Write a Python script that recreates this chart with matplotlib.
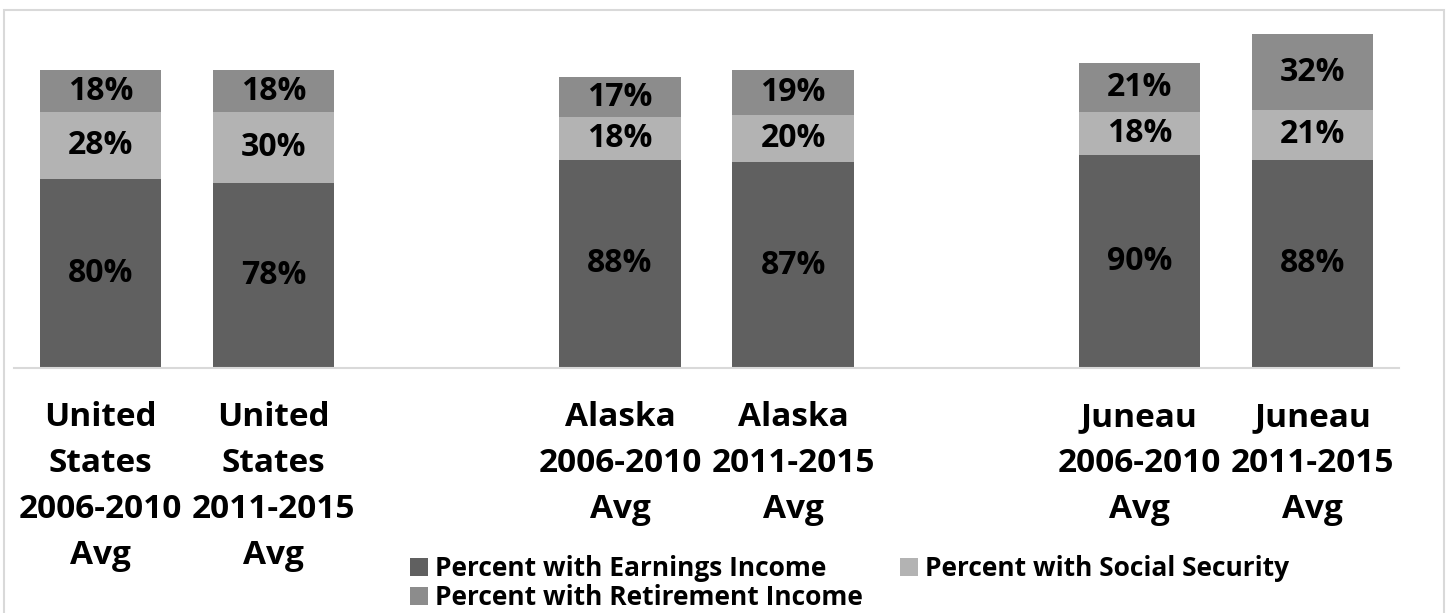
import numpy as np
import matplotlib
matplotlib.use("Agg")
import matplotlib.pyplot as plt
from matplotlib.patches import Rectangle

# Data ("" = empty spacer slot between groups)
categories = ["United\nStates\n2006-2010\nAvg", "United\nStates\n2011-2015\nAvg", "",
              "Alaska\n2006-2010\nAvg", "Alaska\n2011-2015\nAvg", "",
              "Juneau\n2006-2010\nAvg", "Juneau\n2011-2015\nAvg"]
earnings = [80, 78, np.nan, 88, 87, np.nan, 90, 88]
social_security = [28, 30, np.nan, 18, 20, np.nan, 18, 21]
retirement = [18, 18, np.nan, 17, 19, np.nan, 21, 32]
series_names = ["Percent with Earnings Income", "Percent with Social Security",
                "Percent with Retirement Income"]
colors = ["#606060", "#b3b3b3", "#8c8c8c"]

FONT = ['Open Sans', 'DejaVu Sans']
plt.rcParams['font.family'] = FONT
plt.rcParams['font.weight'] = 'bold'

fig = plt.figure(figsize=(14.48, 6.13), dpi=100)
ax = fig.add_axes([14/1448, 1 - 368/613, (1399-14)/1448, (368-13)/613])

x = np.arange(len(categories))
e = np.array(earnings, dtype=float)
s = np.array(social_security, dtype=float)
r = np.array(retirement, dtype=float)
width = 0.70

b1 = ax.bar(x, e, width, color=colors[0], label=series_names[0])
b2 = ax.bar(x, s, width, bottom=e, color=colors[1], label=series_names[1])
b3 = ax.bar(x, r, width, bottom=e + s, color=colors[2], label=series_names[2])

for vals, bottoms in [(e, np.zeros_like(e)), (s, e), (r, e + s)]:
    for xi, v, b in zip(x, vals, bottoms):
        if np.isnan(v):
            continue
        ax.text(xi, b + v / 2, f"{v:.0f}%", ha='center', va='center',
                fontsize=23, fontweight='bold', color='black', family=FONT)

ax.set_xlim(-0.5, len(categories) - 0.5)
ax.set_ylim(0, 150)
ax.set_xticks(x)
ax.set_xticklabels(categories, fontsize=24, fontweight='bold', linespacing=1.52,
                   family=FONT)
ax.tick_params(axis='x', length=0, pad=24)
ax.set_yticks([])
for side in ['top', 'left', 'right']:
    ax.spines[side].set_visible(False)
ax.spines['bottom'].set_color('#d9d9d9')
ax.spines['bottom'].set_linewidth(1.5)

handles = [b1, b3, b2]
labels = [series_names[0], series_names[2], series_names[1]]
leg = fig.legend(handles, labels, ncol=2, loc='upper left',
                 bbox_to_anchor=(410/1448, 1 - 555/613), frameon=False,
                 prop={'family': FONT, 'weight': 'bold', 'size': 19},
                 handlelength=0.68, handleheight=0.68, handletextpad=0.27,
                 columnspacing=1.4, labelspacing=0.08, borderpad=0, borderaxespad=0)

fig.patches.append(Rectangle((4/1448, -0.01), (1444-4)/1448, 1 - 10/613 + 0.01,
                             transform=fig.transFigure, fill=False,
                             edgecolor='#d9d9d9', linewidth=1.5))

fig.savefig("out.png", dpi=100, facecolor='white')
